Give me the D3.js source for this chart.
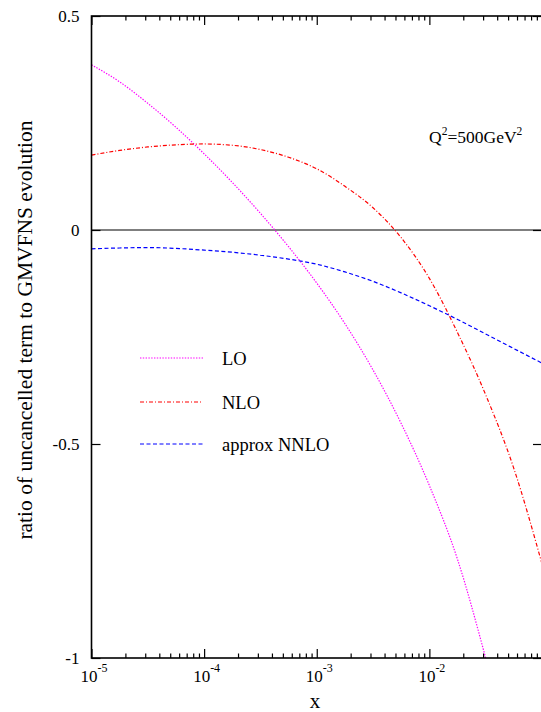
<!DOCTYPE html>
<html>
<head>
<meta charset="utf-8">
<script src="https://cdn.jsdelivr.net/npm/d3@7"></script>
<style>
  html, body { margin: 0; padding: 0; background: #fff; }
  svg { display: block; font-family: "Liberation Serif", "Times New Roman", serif; }
</style>
</head>
<body>
<svg id="chart" width="541" height="712"></svg>
<script>
// x grid (log spaced, read at quarter decades)
const xGrid = [1e-5, 1.78e-5, 3.16e-5, 5.62e-5, 1e-4, 1.78e-4, 3.16e-4, 5.62e-4,
               1e-3, 1.78e-3, 3.16e-3, 5.62e-3, 1e-2, 1.78e-2, 3.16e-2, 5.62e-2, 1e-1];

// ratio values (null = outside the frame)
const loValues   = [0.386, 0.346, 0.296, 0.240, 0.178, 0.111, 0.039, -0.039,
                    -0.124, -0.219, -0.327, -0.452, -0.597, -0.770, -1.0, null, null];
const nloValues  = [0.175, 0.186, 0.194, 0.199, 0.201, 0.198, 0.188, 0.170,
                    0.143, 0.102, 0.052, -0.018, -0.113, -0.240, -0.385, -0.557, -0.780];
const nnloValues = [-0.044, -0.042, -0.041, -0.043, -0.047, -0.052, -0.059, -0.068,
                    -0.080, -0.098, -0.120, -0.147, -0.177, -0.209, -0.243, -0.277, -0.311];

const seriesNames = ["LO", "NLO", "approx NNLO"];
const xTickExps = [-5, -4, -3, -2];
const yTickValues = [0.5, 0, -0.5, -1];
const yTickLabels = ["0.5", "0", "-0.5", "-1"];

const series = [
  { name: seriesNames[0], values: loValues,   color: "#ff00ff", dash: "1.4,1.4" },
  { name: seriesNames[1], values: nloValues,  color: "#ff0000", dash: "4,2,1,2" },
  { name: seriesNames[2], values: nnloValues, color: "#0000ff", dash: "4,2.5" }
];

const svg = d3.select("#chart");
const margin = { left: 91.5, right: 542, top: 16, bottom: 658 };

const x = d3.scaleLog().domain([1e-5, 1e-1]).range([margin.left, margin.right]);
const y = d3.scaleLinear().domain([-1, 0.5]).range([margin.bottom, margin.top]);

// clip to the frame
svg.append("defs").append("clipPath").attr("id", "plotClip")
  .append("rect")
  .attr("x", margin.left).attr("y", margin.top)
  .attr("width", margin.right - margin.left).attr("height", margin.bottom - margin.top);

// minor/major x ticks
const minorTicks = x.ticks().filter(d => Math.abs(Math.log10(d) - Math.round(Math.log10(d))) > 1e-6);
const majorTicks = xTickExps.map(e => Math.pow(10, e)).concat([1e-1]);

function styleAxis(g) {
  g.select(".domain").remove();
  g.selectAll("line").attr("stroke", "#000").attr("stroke-width", 1.2);
}

svg.append("g").attr("transform", `translate(0,${margin.bottom})`)
  .call(d3.axisBottom(x).tickValues(majorTicks).tickSize(-9).tickFormat(""))
  .call(styleAxis);
svg.append("g").attr("transform", `translate(0,${margin.bottom})`)
  .call(d3.axisBottom(x).tickValues(minorTicks).tickSize(-4.5).tickFormat(""))
  .call(styleAxis);
svg.append("g").attr("transform", `translate(0,${margin.top})`)
  .call(d3.axisTop(x).tickValues(majorTicks).tickSize(-9).tickFormat(""))
  .call(styleAxis);
svg.append("g").attr("transform", `translate(0,${margin.top})`)
  .call(d3.axisTop(x).tickValues(minorTicks).tickSize(-4.5).tickFormat(""))
  .call(styleAxis);

// y ticks left + right
svg.append("g").attr("transform", `translate(${margin.left},0)`)
  .call(d3.axisLeft(y).tickValues(yTickValues).tickSize(-9).tickPadding(12)
    .tickFormat((d, i) => yTickLabels[i]))
  .call(styleAxis)
  .call(g => g.selectAll("text")
    .attr("font-family", "Liberation Serif, Times New Roman, serif")
    .attr("font-size", 17).attr("fill", "#000"));
svg.append("g").attr("transform", `translate(${margin.right},0)`)
  .call(d3.axisRight(y).tickValues(yTickValues).tickSize(-9).tickFormat(""))
  .call(styleAxis);

// x tick labels 10^n
const xLabels = svg.append("g").attr("font-size", 17).attr("fill", "#000");
xTickExps.forEach(e => {
  const t = xLabels.append("text")
    .attr("x", x(Math.pow(10, e)) - 11)
    .attr("y", 682);
  t.append("tspan").text("10");
  t.append("tspan").attr("font-size", 12).attr("dy", -10).text(String(e));
});

// zero line
svg.append("line")
  .attr("x1", margin.left).attr("x2", margin.right)
  .attr("y1", y(0)).attr("y2", y(0))
  .attr("stroke", "#000").attr("stroke-width", 1.1);

// curves
const line = d3.line()
  .defined(d => d[1] !== null)
  .x(d => x(d[0]))
  .y(d => y(d[1]))
  .curve(d3.curveMonotoneX);

const curves = svg.append("g").attr("clip-path", "url(#plotClip)");
series.forEach(s => {
  curves.append("path")
    .datum(xGrid.map((xv, i) => [xv, s.values[i]]))
    .attr("d", line)
    .attr("fill", "none")
    .attr("stroke", s.color)
    .attr("stroke-width", 1.2)
    .attr("stroke-dasharray", s.dash);
});

// frame
svg.append("rect")
  .attr("x", margin.left).attr("y", margin.top)
  .attr("width", margin.right - margin.left).attr("height", margin.bottom - margin.top)
  .attr("fill", "none").attr("stroke", "#000").attr("stroke-width", 1.6);

// legend
const legend = svg.append("g");
const legendY = [358, 402, 444];
series.forEach((s, i) => {
  legend.append("line")
    .attr("x1", 140).attr("x2", 203)
    .attr("y1", legendY[i]).attr("y2", legendY[i])
    .attr("stroke", s.color).attr("stroke-width", 1.2)
    .attr("stroke-dasharray", s.dash);
  legend.append("text")
    .attr("x", 222).attr("y", legendY[i] + 6.5)
    .attr("font-size", 18.5).attr("fill", "#000")
    .text(s.name);
});

// Q^2 annotation
const q = svg.append("text").attr("x", 429).attr("y", 143).attr("font-size", 17.5).attr("fill", "#000");
q.append("tspan").text("Q");
q.append("tspan").attr("font-size", 11.5).attr("dy", -8).text("2");
q.append("tspan").attr("dy", 8).text("=500GeV");
q.append("tspan").attr("font-size", 11.5).attr("dy", -8).text("2");

// axis titles
svg.append("text")
  .attr("x", 315).attr("y", 708)
  .attr("text-anchor", "middle").attr("font-size", 21).attr("fill", "#000")
  .text("x");
svg.append("text")
  .attr("transform", "translate(32,330) rotate(-90)")
  .attr("text-anchor", "middle").attr("font-size", 21.5).attr("fill", "#000")
  .text("ratio of uncancelled term to GMVFNS evolution");
</script>
</body>
</html>
